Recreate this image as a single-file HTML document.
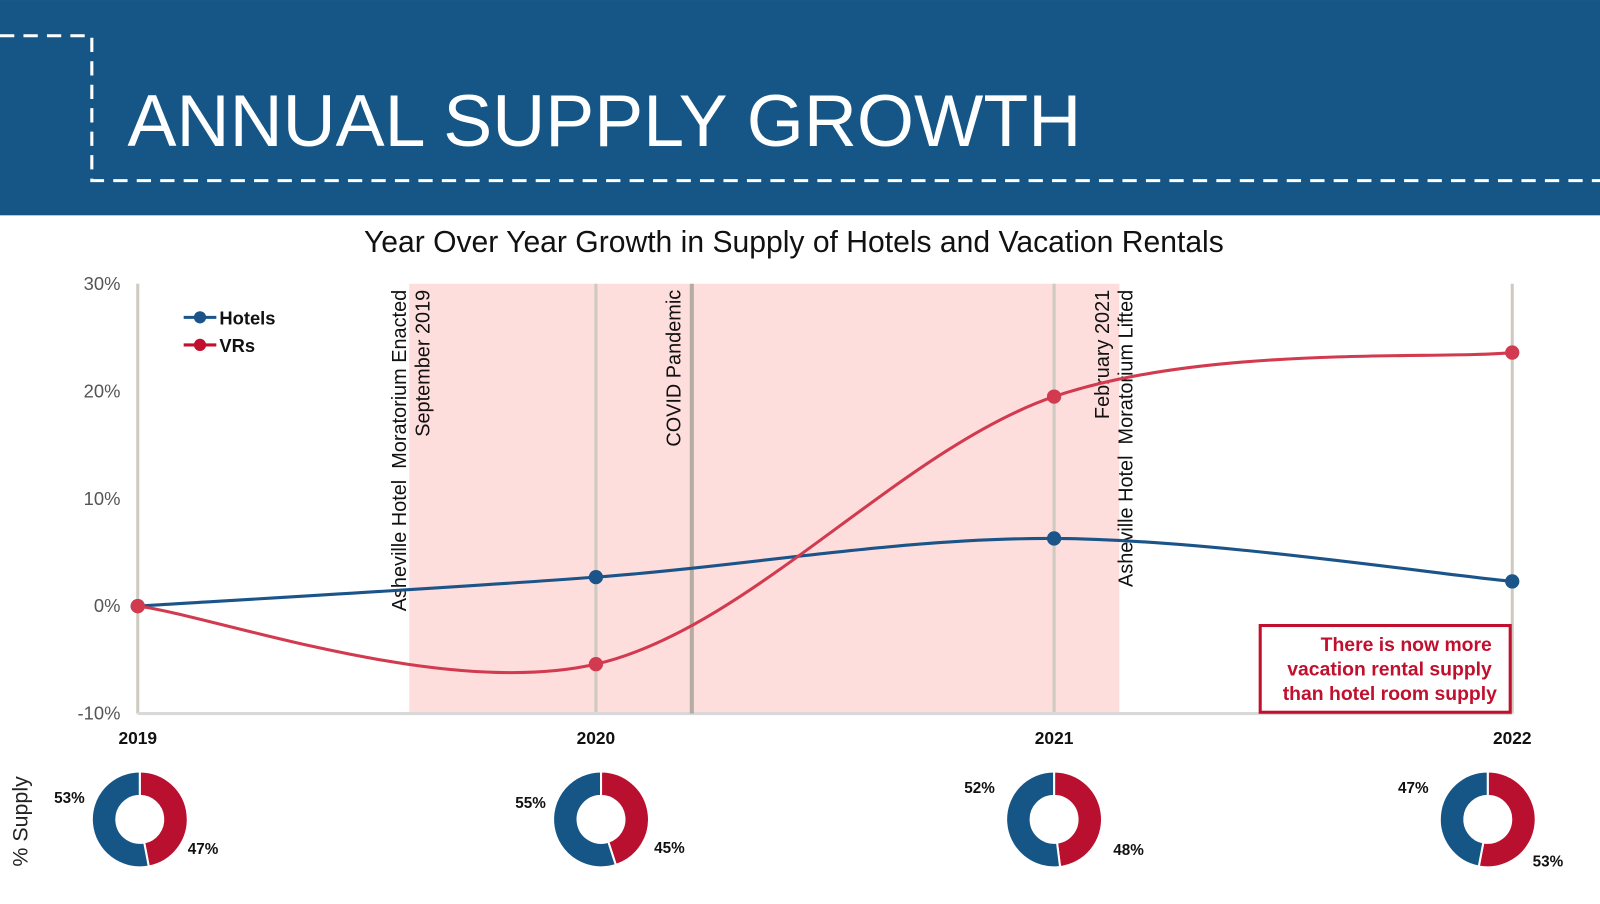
<!DOCTYPE html>
<html><head><meta charset="utf-8"><style>
body{margin:0;width:1600px;height:899px;background:#fff;overflow:hidden;font-family:"Liberation Sans",sans-serif}
text{white-space:pre}
</style></head><body>
<svg width="1600" height="899" viewBox="0 0 1568 881" xmlns="http://www.w3.org/2000/svg" font-family="Liberation Sans, sans-serif">
<rect x="0" y="0" width="1600" height="211" fill="#165686"/>
<path d="M0 35 H90 V177 H1600" fill="none" stroke="#fff" stroke-width="3" stroke-dasharray="14,9"/>
<text x="125" y="143" font-size="72" fill="#fff">ANNUAL SUPPLY GROWTH</text>
<text x="778" y="247" font-size="29.5" fill="#111" text-anchor="middle">Year Over Year Growth in Supply of Hotels and Vacation Rentals</text>
<g id="chart"></g>
<g id="donuts"></g>
<text transform="translate(27,805) rotate(-90)" font-size="21" fill="#222" text-anchor="middle">% Supply</text>
<g>
<rect x="1235" y="613" width="245" height="85" fill="#fff" stroke="#c0102e" stroke-width="3"/>
<text x="1462" y="638" font-size="19" font-weight="bold" fill="#c0102e" text-anchor="end">There is now more</text>
<text x="1462" y="662" font-size="19" font-weight="bold" fill="#c0102e" text-anchor="end">vacation rental supply</text>
<text x="1467" y="686" font-size="19" font-weight="bold" fill="#c0102e" text-anchor="end">than hotel room supply</text>
</g>
</svg>
<script>
const years=['2019','2020','2021','2022'];
const hotels=[0,2.7,6.3,2.3];
const vrs=[0,-5.4,19.5,23.6];
const yTicks=[30,20,10,0,-10];
const hotelShare=[53,55,52,47];
const vrShare=[47,45,48,53];
const NS='http://www.w3.org/2000/svg';
const g=document.getElementById('chart');
const X=i=>135+i*449, Y=v=>594-v*10.53;
function el(t,a,p){const e=document.createElementNS(NS,t);for(const k in a)e.setAttribute(k,a[k]);(p||g).appendChild(e);return e;}
const shade=el('rect',{x:401,y:Y(30),width:696,height:Y(-10)-Y(30),fill:'#fddedd'});


yTicks.forEach(t=>{const tx=el('text',{x:118,y:Y(t)+6,'font-size':18,fill:'#555','text-anchor':'end'});tx.textContent=t+'%';

});
years.forEach((y,i)=>{const ln=el('line',{x1:X(i),x2:X(i),y1:Y(30),y2:Y(-10),stroke:'#cfcac0','stroke-width':3});


const tx=el('text',{x:X(i),y:729,'font-size':17,'font-weight':'bold',fill:'#111','text-anchor':'middle'});tx.textContent=y;

});
const ax=el('line',{x1:135,x2:1482,y1:Y(-10),y2:Y(-10),stroke:'#d9d9d9','stroke-width':3});


const cv=el('line',{x1:678,x2:678,y1:Y(30),y2:Y(-10),stroke:'#b5ada2','stroke-width':4});


function ann(x,lines,name){const grp=el('g',{});

lines.forEach((s,k)=>{const t=el('text',{transform:`translate(${x+k*23},284) rotate(-90)`,'font-size':19.5,fill:'#111','text-anchor':'end'},grp);t.textContent=s;});}
ann(398,['Asheville Hotel  Moratorium Enacted','September 2019'],'moratorium-enacted-annotation');
ann(667,['COVID Pandemic'],'covid-annotation');
ann(1087,['February 2021','Asheville Hotel  Moratorium Lifted'],'moratorium-lifted-annotation');
function smooth(vals){const p=vals.map((v,i)=>[X(i),Y(v)]);let d=`M${p[0][0]},${p[0][1]}`;
for(let i=0;i<p.length-1;i++){const p0=p[Math.max(i-1,0)],p1=p[i],p2=p[i+1],p3=p[Math.min(i+2,p.length-1)];
const c1=[p1[0]+(p2[0]-p0[0])/6,p1[1]+(p2[1]-p0[1])/6],c2=[p2[0]-(p3[0]-p1[0])/6,p2[1]-(p3[1]-p1[1])/6];
d+=` C${c1[0]},${c1[1]} ${c2[0]},${c2[1]} ${p2[0]},${p2[1]}`;}return d;}
function series(vals,col,name){const pth=el('path',{d:smooth(vals),fill:'none',stroke:col,'stroke-width':3});


vals.forEach((v,i)=>{const c=el('circle',{cx:X(i),cy:Y(v),r:7,fill:col});

});}
series(hotels,'#1b5488','hotels');
series(vrs,'#d23a4f','vrs');
const lg=[['Hotels','#1b5488',311],['VRs','#c0102e',338]];
lg.forEach(([n,c,y])=>{const gg=el('g',{});

el('line',{x1:180,x2:212,y1:y,y2:y,stroke:c,'stroke-width':3},gg);el('circle',{cx:196,cy:y,r:6,fill:c},gg);
const t=el('text',{x:215,y:y+7,'font-size':18,'font-weight':'bold',fill:'#111'},gg);t.textContent=n;});
const dg=document.getElementById('donuts');
const centers=[137,589,1033,1458];
const labPos=[[[68,787],[199,837]],[[520,792],[656,836]],[[960,777],[1106,838]],[[1385,777],[1517,849]]];
function arc(cx,cy,R,r,a0,a1){const P=(a,rr)=>[cx+rr*Math.sin(a),cy-rr*Math.cos(a)];const lg=(a1-a0)>Math.PI?1:0;
const [x0,y0]=P(a0,R),[x1,y1]=P(a1,R),[x2,y2]=P(a1,r),[x3,y3]=P(a0,r);
return `M${x0},${y0} A${R},${R} 0 ${lg} 1 ${x1},${y1} L${x2},${y2} A${r},${r} 0 ${lg} 0 ${x3},${y3}Z`;}
years.forEach((y,i)=>{const cx=centers[i],cy=803;const a=vrShare[i]/100*2*Math.PI;
const r1=el('path',{d:arc(cx,cy,47,23,0,a),fill:'#b8102e',stroke:'#fff','stroke-width':2},dg);


const r2=el('path',{d:arc(cx,cy,47,23,a,2*Math.PI),fill:'#165686',stroke:'#fff','stroke-width':2},dg);


const t1=el('text',{x:labPos[i][0][0],y:labPos[i][0][1],'font-size':15,'font-weight':'bold',fill:'#111','text-anchor':'middle'},dg);t1.textContent=hotelShare[i]+'%';


const t2=el('text',{x:labPos[i][1][0],y:labPos[i][1][1],'font-size':15,'font-weight':'bold',fill:'#111','text-anchor':'middle'},dg);t2.textContent=vrShare[i]+'%';

});
</script>
</body></html>
